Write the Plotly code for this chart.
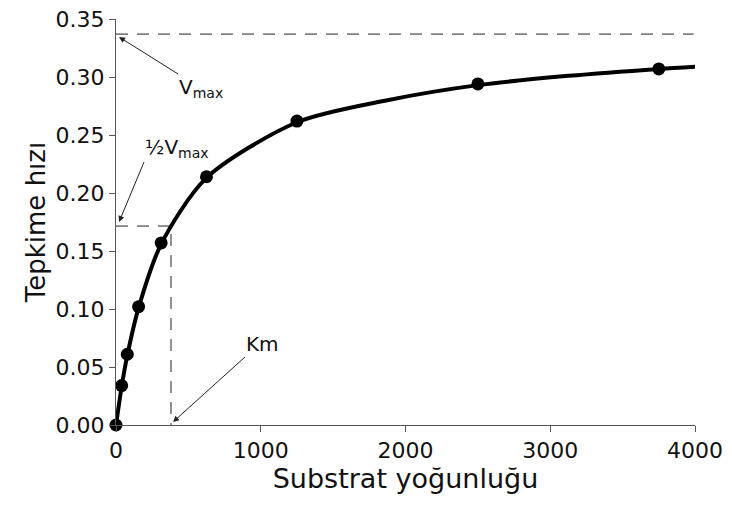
import plotly.graph_objects as go

# measured data points
substrate = [0, 39, 78, 156, 312, 625, 1250, 2500, 3750]
rate = [0.0, 0.034, 0.061, 0.102, 0.157, 0.214, 0.262, 0.294, 0.307]

# fitted curve
curve_x = [0, 39, 78, 156, 312, 625, 1250, 1875, 2500, 3125, 3750, 4010]
curve_y = [0.0, 0.033, 0.060, 0.101, 0.156, 0.213, 0.261, 0.280, 0.293, 0.301, 0.307, 0.309]

vmax = 0.337
half_vmax = 0.1715
km = 380

x_ticks = [0, 1000, 2000, 3000, 4000]
y_ticks = [0.00, 0.05, 0.10, 0.15, 0.20, 0.25, 0.30, 0.35]

FONT = "DejaVu Sans"
dash_col = "#222222"

fig = go.Figure()

fig.add_trace(go.Scatter(x=[0, 3990], y=[vmax, vmax], mode="lines",
                         line=dict(color=dash_col, width=1, dash="12px,9px"),
                         hoverinfo="skip", showlegend=False))
fig.add_trace(go.Scatter(x=[0, km, km], y=[half_vmax, half_vmax, 0], mode="lines",
                         line=dict(color=dash_col, width=1, dash="12px,9px"),
                         hoverinfo="skip", showlegend=False))
fig.add_trace(go.Scatter(x=curve_x, y=curve_y, mode="lines",
                         line=dict(color="black", width=4, shape="spline", smoothing=0.8),
                         showlegend=False, cliponaxis=False))
fig.add_trace(go.Scatter(x=substrate, y=rate, mode="markers",
                         marker=dict(color="black", size=13),
                         showlegend=False, cliponaxis=False))

ann_font = dict(family=FONT, size=20, color="#111")
arrow = dict(showarrow=True, arrowhead=2, arrowsize=1.2, arrowwidth=1, arrowcolor="#222",
             axref="pixel", ayref="pixel", xref="x", yref="y", font=ann_font,
             borderpad=0)

fig.add_annotation(x=21, y=0.3345, ax=59, ay=37, text="V<sub>max</sub>",
                   xanchor="left", yanchor="top", **arrow)
fig.add_annotation(x=21, y=0.175, ax=25, ay=-60, text="½V<sub>max</sub>",
                   xanchor="left", yanchor="bottom", **arrow)
fig.add_annotation(x=394, y=0.0026, ax=72, ay=-65, text="Km",
                   xanchor="left", yanchor="bottom", **arrow)

axis_common = dict(showline=True, linecolor="#555", linewidth=1, ticks="outside",
                   ticklen=6, tickcolor="#555", showgrid=False, zeroline=False,
                   automargin=False,
                   tickfont=dict(family=FONT, size=22, color="#111"))

fig.update_layout(
    width=732, height=512,
    margin=dict(l=116, r=37, t=19, b=87),
    plot_bgcolor="white", paper_bgcolor="white",
    xaxis=dict(range=[0, 4000], tickvals=x_ticks, ticktext=[str(v) for v in x_ticks],
               title=dict(text="Substrat yoğunluğu", font=dict(family=FONT, size=27, color="#111"),
                          standoff=4),
               **axis_common),
    yaxis=dict(range=[0, 0.35], tickvals=y_ticks, ticktext=[f"{v:.2f}" for v in y_ticks],
               title=dict(text="Tepkime hızı", font=dict(family=FONT, size=26, color="#111"),
                          standoff=2),
               **axis_common),
)

fig.write_html("out.html", config={"displayModeBar": False},
               post_script="document.body.style.margin='0px';document.body.style.overflow='hidden';")
